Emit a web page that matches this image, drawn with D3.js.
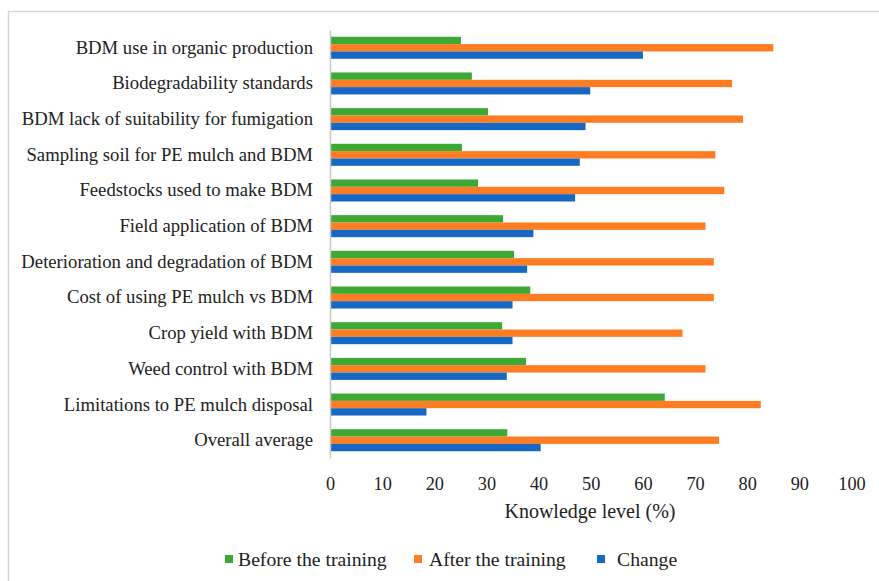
<!DOCTYPE html>
<html>
<head>
<meta charset="utf-8">
<script src="https://cdn.jsdelivr.net/npm/d3@7"></script>
<style>
  html, body { margin: 0; padding: 0; background: #fff; }
  svg { display: block; font-family: "Liberation Serif", "Times New Roman", serif; }
</style>
</head>
<body>
<svg id="chart" width="879" height="581"></svg>
<script>
// Topics, top to bottom
const categories = [
  "BDM use in organic production",
  "Biodegradability standards",
  "BDM lack of suitability for fumigation",
  "Sampling soil for PE mulch and BDM",
  "Feedstocks used to make BDM",
  "Field application of BDM",
  "Deterioration and degradation of BDM",
  "Cost of using PE mulch vs BDM",
  "Crop yield with BDM",
  "Weed control with BDM",
  "Limitations to PE mulch disposal",
  "Overall average"
];
// Knowledge level (%) per topic
const beforeTraining = [25.1, 27.2, 30.3, 25.3, 28.4, 33.2, 35.3, 38.4, 33.0, 37.6, 64.2, 34.0];
const afterTraining  = [85.0, 77.1, 79.2, 73.9, 75.6, 72.0, 73.6, 73.6, 67.6, 72.0, 82.6, 74.6];
const change         = [60.0, 49.9, 49.0, 47.9, 47.0, 39.0, 37.8, 35.0, 35.0, 33.9, 18.5, 40.4];
const xTicks = [0, 10, 20, 30, 40, 50, 60, 70, 80, 90, 100];
const seriesNames = ["Before the training", "After the training", "Change"];
const seriesColors = ["#3ca934", "#ff7d22", "#1668c4"];

const series = [beforeTraining, afterTraining, change];
const svg = d3.select("#chart");
const serif = "'Liberation Serif', 'Times New Roman', serif";

// light frame around the figure
svg.append("rect")
  .attr("x", 8.5).attr("y", 11.5)
  .attr("width", 900).attr("height", 600)
  .attr("fill", "none").attr("stroke", "#d6d6d6").attr("stroke-width", 1.5);

const plot = { left: 330, right: 851.5, top: 30, bottom: 458 };

const x = d3.scaleLinear().domain([0, 100]).range([plot.left, plot.right]);
const y = d3.scaleBand().domain(categories).range([plot.top, plot.bottom])
  .paddingInner(0.383).paddingOuter(0.19);
const ySub = d3.scaleBand().domain(d3.range(series.length)).range([0, y.bandwidth()]);

// bars
const groups = svg.append("g").selectAll("g")
  .data(categories)
  .join("g")
  .attr("transform", d => `translate(0,${y(d)})`);

groups.selectAll("rect")
  .data((d, i) => series.map((s, k) => ({ k, v: s[i] })))
  .join("rect")
  .attr("x", x(0))
  .attr("y", d => ySub(d.k))
  .attr("width", d => x(d.v) - x(0))
  .attr("height", ySub.bandwidth())
  .attr("fill", d => seriesColors[d.k]);

// vertical category axis
const yAxis = svg.append("g")
  .attr("transform", `translate(${plot.left},0)`)
  .call(d3.axisLeft(y).tickSize(0).tickPadding(17));
yAxis.attr("font-family", serif);
yAxis.select(".domain").attr("stroke", "#c8c8c8").attr("stroke-width", 1.5);
yAxis.selectAll("text").attr("font-size", 18.7).attr("fill", "#222");

// horizontal value axis (labels only)
const xAxis = svg.append("g")
  .attr("transform", `translate(0,${plot.bottom})`)
  .call(d3.axisBottom(x).tickValues(xTicks).tickSize(0).tickPadding(19));
xAxis.attr("font-family", serif);
xAxis.select(".domain").remove();
xAxis.selectAll("text").attr("font-size", 18.3).attr("fill", "#222");

svg.append("text")
  .attr("x", 590).attr("y", 518)
  .attr("text-anchor", "middle")
  .attr("font-size", 20).attr("fill", "#222")
  .text("Knowledge level (%)");

// legend
const legendX = [225, 414, 597];
const legendTextX = [238, 429, 617];
const legend = svg.append("g");
seriesNames.forEach((name, k) => {
  legend.append("rect")
    .attr("x", legendX[k]).attr("y", 555)
    .attr("width", 8).attr("height", 8)
    .attr("fill", seriesColors[k]);
  legend.append("text")
    .attr("x", legendTextX[k]).attr("y", 566)
    .attr("font-size", 19.7).attr("fill", "#222")
    .text(name);
});
</script>
</body>
</html>
